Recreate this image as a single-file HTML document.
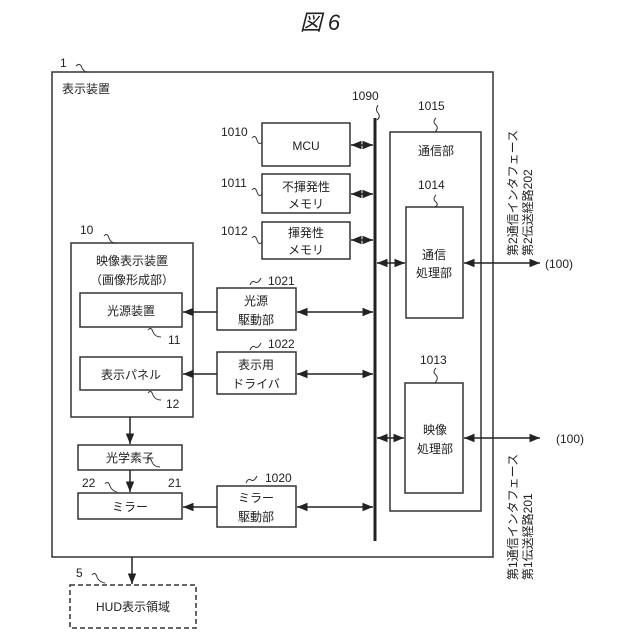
<!DOCTYPE html>
<html><head><meta charset="utf-8"><style>
body{margin:0;background:#fff}
svg{display:block}
text{font-family:"Liberation Sans","Noto Sans CJK JP",sans-serif;fill:#222}
</style></head><body>
<svg width="640" height="640" viewBox="0 0 640 640" xmlns="http://www.w3.org/2000/svg">
<defs>
<marker id="a" viewBox="0 0 10 10" refX="10" refY="5" markerWidth="7" markerHeight="7" orient="auto-start-reverse"><path d="M0,1 L10,5 L0,9 z" fill="#222"/></marker>
</defs>
<g fill="none" stroke="#333" stroke-width="1.5">
<rect x="52" y="72" width="441" height="485"/>
<rect x="262" y="123" width="88" height="43"/>
<rect x="262" y="174" width="88" height="39"/>
<rect x="262" y="222" width="88" height="37"/>
<rect x="390" y="132" width="91" height="379"/>
<rect x="406" y="207" width="57" height="111"/>
<rect x="405" y="383" width="58" height="110"/>
<rect x="71" y="243" width="122" height="174"/>
<rect x="80" y="293" width="102" height="34"/>
<rect x="80" y="357" width="102" height="33"/>
<rect x="217" y="288" width="79" height="42"/>
<rect x="217" y="352" width="79" height="42"/>
<rect x="217" y="486" width="79" height="41"/>
<rect x="78" y="445" width="104" height="25"/>
<rect x="78" y="493" width="104" height="26"/>
<rect x="70" y="585" width="126" height="43" stroke-dasharray="5,3"/>
</g>
<line x1="375" y1="118" x2="375" y2="541" stroke="#222" stroke-width="3"/>
<g stroke="#222" stroke-width="1.5" marker-end="url(#a)" marker-start="url(#a)">
<line x1="351" y1="145" x2="373" y2="145"/>
<line x1="351" y1="194" x2="373" y2="194"/>
<line x1="351" y1="240" x2="373" y2="240"/>
<line x1="377" y1="263" x2="405" y2="263"/>
<line x1="464" y1="263" x2="540" y2="263"/>
<line x1="377" y1="438" x2="404" y2="438"/>
<line x1="464" y1="438" x2="540" y2="438"/>
<line x1="297" y1="312" x2="373" y2="312"/>
<line x1="297" y1="374" x2="373" y2="374"/>
<line x1="297" y1="507" x2="373" y2="507"/>
</g>
<g stroke="#222" stroke-width="1.5" marker-end="url(#a)">
<line x1="217" y1="312" x2="183" y2="312"/>
<line x1="217" y1="374" x2="183" y2="374"/>
<line x1="217" y1="507" x2="183" y2="507"/>
<line x1="130" y1="417" x2="130" y2="444"/>
<line x1="130" y1="470" x2="130" y2="492"/>
<line x1="132" y1="557" x2="132" y2="584"/>
</g>
<g fill="none" stroke="#333" stroke-width="1">
<path d="M76,66 q4,-4 6,2 q3,5 6,4"/>
<path d="M378,105 q-3,5 0,8 q3,4 -1,7"/>
<path d="M436,118 q-4,4 0,7 q3,3 -1,7"/>
<path d="M436,195 q-4,4 0,7 q3,3 -1,5"/>
<path d="M436,368 q-4,4 0,7 q3,3 -1,8"/>
<path d="M252,138 q3,-4 5,2 q2,6 5,2"/>
<path d="M252,190 q3,-4 5,2 q2,6 5,2"/>
<path d="M252,238 q3,-4 5,2 q2,6 5,2"/>
<path d="M104,236 q3,-4 5,2 q2,6 9,5"/>
<path d="M250,285 q2,-5 5,-3 q3,2 6,-4"/>
<path d="M250,350 q2,-5 5,-3 q3,2 6,-4"/>
<path d="M246,483 q2,-5 5,-3 q3,2 6,-4"/>
<path d="M148,330 q3,-4 5,2 q2,5 8,5"/>
<path d="M148,393 q3,-4 5,2 q2,5 8,5"/>
<path d="M147,460 q3,-4 5,2 q2,5 8,5"/>
<path d="M105,484 q3,-4 5,2 q2,5 7,6"/>
<path d="M92,575 q3,-4 5,2 q2,5 8,6"/>
</g>
<text x="320" y="30" font-size="22" font-style="italic" text-anchor="middle">図 6</text>
<g font-size="12">
<text x="60" y="67">1</text>
<text x="62" y="93">表示装置</text>
<text x="352" y="100">1090</text>
<text x="418" y="110">1015</text>
<text x="436" y="155" text-anchor="middle">通信部</text>
<text x="418" y="189">1014</text>
<text x="434" y="259" text-anchor="middle">通信</text>
<text x="434" y="277" text-anchor="middle">処理部</text>
<text x="420" y="364">1013</text>
<text x="435" y="434" text-anchor="middle">映像</text>
<text x="435" y="453" text-anchor="middle">処理部</text>
<text x="545" y="268">(100)</text>
<text x="556" y="443">(100)</text>
<text x="221" y="136">1010</text>
<text x="221" y="187">1011</text>
<text x="221" y="235">1012</text>
<text x="306" y="150" text-anchor="middle">MCU</text>
<text x="306" y="191" text-anchor="middle">不揮発性</text>
<text x="306" y="208" text-anchor="middle">メモリ</text>
<text x="306" y="237" text-anchor="middle">揮発性</text>
<text x="306" y="254" text-anchor="middle">メモリ</text>
<text x="80" y="234">10</text>
<text x="132" y="265" text-anchor="middle">映像表示装置</text>
<text x="132" y="284" text-anchor="middle">（画像形成部）</text>
<text x="131" y="315" text-anchor="middle">光源装置</text>
<text x="131" y="379" text-anchor="middle">表示パネル</text>
<text x="168" y="344">11</text>
<text x="166" y="408">12</text>
<text x="268" y="285">1021</text>
<text x="268" y="348">1022</text>
<text x="265" y="482">1020</text>
<text x="256" y="305" text-anchor="middle">光源</text>
<text x="256" y="324" text-anchor="middle">駆動部</text>
<text x="256" y="369" text-anchor="middle">表示用</text>
<text x="256" y="388" text-anchor="middle">ドライバ</text>
<text x="256" y="502" text-anchor="middle">ミラー</text>
<text x="256" y="521" text-anchor="middle">駆動部</text>
<text x="130" y="462" text-anchor="middle">光学素子</text>
<text x="130" y="511" text-anchor="middle">ミラー</text>
<text x="82" y="487">22</text>
<text x="168" y="487">21</text>
<text x="76" y="577">5</text>
<text x="133" y="611" text-anchor="middle">HUD表示領域</text>
<text transform="translate(517,256) rotate(-90)">第2通信インタフェース</text>
<text transform="translate(532,256) rotate(-90)">第2伝送経路202</text>
<text transform="translate(517,580) rotate(-90)">第1通信インタフェース</text>
<text transform="translate(532,580) rotate(-90)">第1伝送経路201</text>
</g>
</svg>
</body></html>
